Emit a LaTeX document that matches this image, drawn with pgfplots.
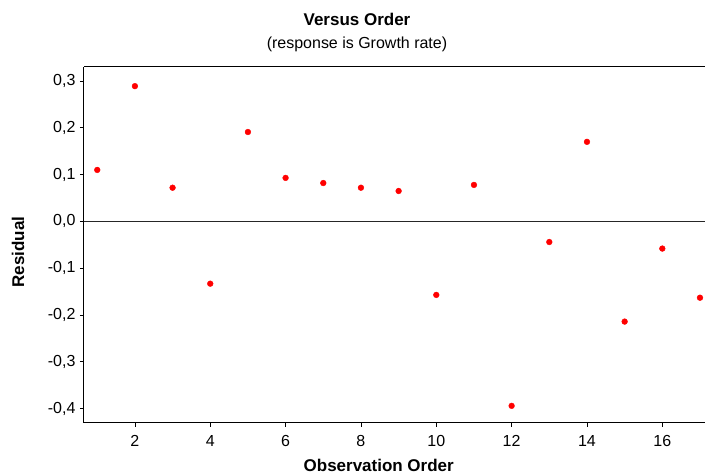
\documentclass[border=0pt]{standalone}
\usepackage{fontspec}
\setmainfont{Liberation Sans}
\usepackage{pgfplots}
\pgfplotsset{compat=1.18}
\begin{document}
\begin{tikzpicture}
\begin{axis}[
  scale only axis,
  width=621pt, height=356pt,
  xmin=0.647, xmax=17.12,
  ymin=-0.430, ymax=0.330,
  axis x line*=box, axis y line*=left,
  xtick={2,4,...,16},
  ytick={-0.4,-0.3,...,0.31},
  xtick pos=bottom, ytick pos=left,
  tick align=outside,
  major tick length=4pt,
  axis line style={black, line width=1pt, -},
  tick style={black, line width=0.8pt},
  /pgf/number format/assume math mode=true,
  /pgf/number format/use comma,
  /pgf/number format/fixed,
  /pgf/number format/fixed zerofill,
  /pgf/number format/precision=1,
  xticklabel style={/pgf/number format/fixed zerofill=false, /pgf/number format/precision=0, yshift=-5pt},
  ticklabel style={font=\fontsize{16}{18}\selectfont},
  yticklabel style={xshift=-1pt},
  xlabel={\textbf{Observation Order}},
  ylabel={\textbf{Residual}},
  xlabel style={font=\fontsize{17}{19}\selectfont, at={(rel axis cs:0.475,0)}, anchor=base, yshift=-49pt},
  ylabel style={font=\fontsize{17}{19}\selectfont, at={([xshift=-66pt]rel axis cs:0,0.48)}, anchor=center},
  clip=false,
]
\addplot[black!85, line width=0.9pt, forget plot] coordinates {(0.647,0) (17.12,0)};
\addplot[only marks, mark=*, mark size=2.9pt, color=red, fill=red] coordinates {
(1,0.110) (2,0.289) (3,0.072) (4,-0.133) (5,0.191) (6,0.093) (7,0.082) (8,0.072) (9,0.065)
(10,-0.157) (11,0.078) (12,-0.394) (13,-0.044) (14,0.170) (15,-0.214) (16,-0.058) (17,-0.163)
};
\node[anchor=base, font=\bfseries\fontsize{17}{19}\selectfont] at ([yshift=41pt]rel axis cs:0.44,1) {Versus Order};
\node[anchor=base, font=\fontsize{16}{18}\selectfont] at ([yshift=18pt]rel axis cs:0.44,1) {(response is Growth rate)};
\end{axis}
\path[use as bounding box] ([xshift=-84pt,yshift=-48pt]current axis.south west) rectangle ([yshift=67pt]current axis.north east);
\end{tikzpicture}
\end{document}
